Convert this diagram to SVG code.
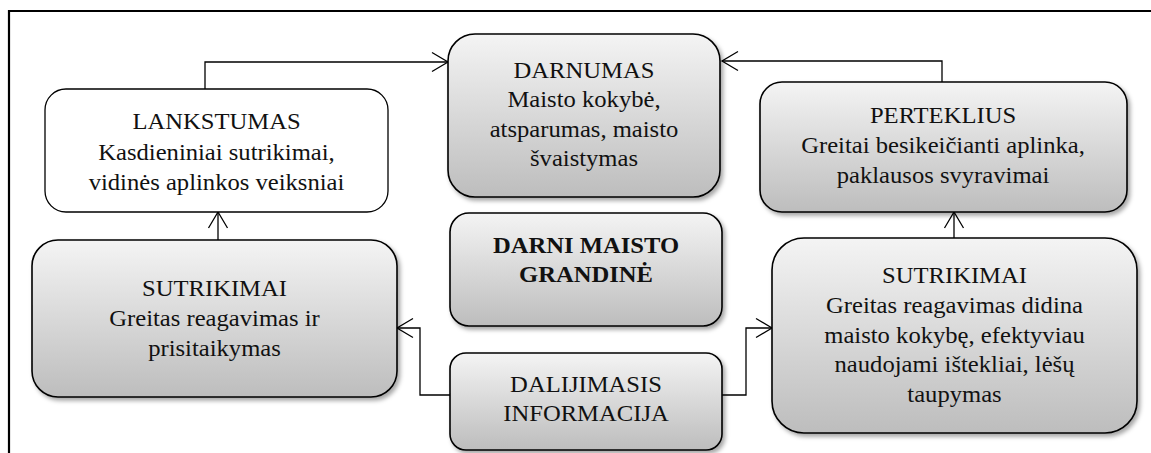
<svg xmlns="http://www.w3.org/2000/svg" width="1151" height="453" viewBox="0 0 1151 453">
  <defs>
    <linearGradient id="boxFill" x1="0" y1="0" x2="0" y2="1">
      <stop offset="0" stop-color="#f4f4f4"/>
      <stop offset="1" stop-color="#bdbdbd"/>
    </linearGradient>
    <filter id="shadow" x="-10%" y="-10%" width="125%" height="130%">
      <feDropShadow dx="2.5" dy="3" stdDeviation="2.2" flood-color="#000" flood-opacity="0.35"/>
    </filter>
    <marker id="openArrow" markerUnits="userSpaceOnUse" markerWidth="20" markerHeight="22" viewBox="0 0 20 22" refX="17" refY="11" orient="auto">
      <path d="M1,1.5 L17,11 L1,20.5" fill="none" stroke="#000" stroke-width="1.3"/>
    </marker>
    <style>
      .box { fill: url(#boxFill); stroke: #000; stroke-width: 1.6; filter: url(#shadow); }
      .plain { fill: #fff; stroke: #000; stroke-width: 1.3; }
      .t { font-family: "Liberation Serif", "Times New Roman", serif; font-size: 22.8px; fill: #111; text-anchor: middle; }
      .b { font-weight: bold; }
      .link { fill: none; stroke: #000; stroke-width: 1.3; marker-end: url(#openArrow); }
      .frame { fill: none; stroke: #000; stroke-width: 2.2; }
    </style>
  </defs>

  <!-- outer frame -->
  <path class="frame" d="M9,453 V11 H1151"/>

  <!-- connectors -->
  <g id="connectors">
    <path class="link" d="M205,89 V62 H448"/>
    <path class="link" d="M942,82 V61 H722"/>
    <path class="link" d="M218,240 V212"/>
    <path class="link" d="M954,238 V212"/>
    <path class="link" d="M450,395 H420 V328 H397"/>
    <path class="link" d="M722,395 H746 V328 H772"/>
  </g>

  <!-- text blocks are slightly widened with scale(1.08 1) around each box centre -->
  <g id="lankstumas">
    <rect class="plain" x="45" y="89" width="343" height="123" rx="21"/>
    <g transform="translate(216.5 0) scale(1.08 1)">
      <text class="t" x="0" y="129">LANKSTUMAS</text>
      <text class="t" x="0" y="160">Kasdieniniai sutrikimai,</text>
      <text class="t" x="0" y="190">vidinės aplinkos veiksniai</text>
    </g>
  </g>

  <g id="darnumas">
    <rect class="box" x="448" y="34" width="272" height="163" rx="27"/>
    <g transform="translate(584 0) scale(1.08 1)">
      <text class="t" x="0" y="78">DARNUMAS</text>
      <text class="t" x="0" y="107.5">Maisto kokybė,</text>
      <text class="t" x="0" y="137">atsparumas, maisto</text>
      <text class="t" x="0" y="166.5">švaistymas</text>
    </g>
  </g>

  <g id="perteklius">
    <rect class="box" x="760" y="82" width="367" height="130" rx="22"/>
    <g transform="translate(943 0) scale(1.08 1)">
      <text class="t" x="0" y="123">PERTEKLIUS</text>
      <text class="t" x="0" y="153">Greitai besikeičianti aplinka,</text>
      <text class="t" x="0" y="183">paklausos svyravimai</text>
    </g>
  </g>

  <g id="sutrikimai-kaire">
    <rect class="box" x="32" y="240" width="365" height="157" rx="26"/>
    <g transform="translate(214.5 0) scale(1.08 1)">
      <text class="t" x="0" y="296">SUTRIKIMAI</text>
      <text class="t" x="0" y="326">Greitas reagavimas ir</text>
      <text class="t" x="0" y="356">prisitaikymas</text>
    </g>
  </g>

  <g id="darni-grandine">
    <rect class="box" x="450" y="213" width="272" height="113" rx="19"/>
    <g transform="translate(586 0) scale(1.08 1)">
      <text class="t b" x="0" y="253">DARNI MAISTO</text>
      <text class="t b" x="0" y="282">GRANDINĖ</text>
    </g>
  </g>

  <g id="dalijimasis">
    <rect class="box" x="450" y="353" width="272" height="97" rx="16"/>
    <g transform="translate(586 0) scale(1.08 1)">
      <text class="t" x="0" y="392">DALIJIMASIS</text>
      <text class="t" x="0" y="421">INFORMACIJA</text>
    </g>
  </g>

  <g id="sutrikimai-desine">
    <rect class="box" x="772" y="238" width="365" height="195" rx="32"/>
    <g transform="translate(954.5 0) scale(1.08 1)">
      <text class="t" x="0" y="283">SUTRIKIMAI</text>
      <text class="t" x="0" y="313">Greitas reagavimas didina</text>
      <text class="t" x="0" y="343">maisto kokybę, efektyviau</text>
      <text class="t" x="0" y="372.5">naudojami ištekliai, lėšų</text>
      <text class="t" x="0" y="402">taupymas</text>
    </g>
  </g>
</svg>
